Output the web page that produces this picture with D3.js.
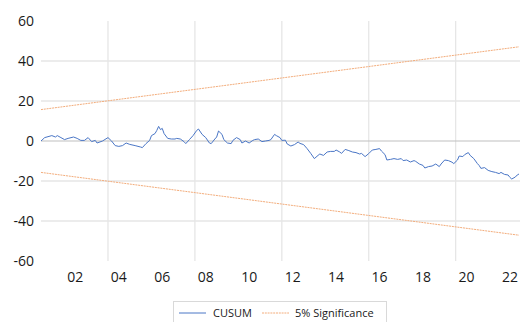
<!DOCTYPE html>
<html>
<head>
<meta charset="utf-8">
<script src="https://cdn.jsdelivr.net/npm/d3@7"></script>
<style>
  html, body { margin: 0; padding: 0; background: #ffffff; }
  svg { display: block; }
  text { font-family: "Open Sans", "Noto Sans", sans-serif; fill: #1a1a1a; }
</style>
</head>
<body>
<svg id="chart" width="520" height="322"></svg>
<script>
// ---------------- data ----------------
const obsMonth = [
"2000-12","2001-02","2001-06","2001-08","2001-09","2001-11","2002-01","2002-03","2002-06","2002-08",
"2002-10","2002-12","2003-02","2003-04","2003-06","2003-07","2003-10","2004-01","2004-03","2004-05",
"2004-07","2004-09","2004-11","2005-01","2005-04","2005-07","2005-08","2005-10","2005-12","2006-01",
"2006-03","2006-04","2006-05","2006-06","2006-07","2006-08","2006-10","2006-12","2007-02","2007-03",
"2007-05","2007-07","2007-08","2007-10","2007-12","2008-02","2008-03","2008-05","2008-07","2008-09",
"2008-10","2008-12","2009-01","2009-02","2009-04","2009-05","2009-07","2009-09","2009-10","2009-12",
"2010-02","2010-03","2010-05","2010-07","2010-09","2010-10","2010-12","2011-02","2011-04","2011-06",
"2011-07","2011-09","2011-10","2011-12","2012-01","2012-03","2012-04","2012-06","2012-08","2012-10",
"2012-11","2013-01","2013-03","2013-05","2013-07","2013-09","2013-10","2013-12","2014-02","2014-04",
"2014-06","2014-07","2014-09","2014-10","2014-12","2015-02","2015-04","2015-06","2015-08","2015-09",
"2015-11","2016-01","2016-03","2016-05","2016-07","2016-08","2016-10","2016-11","2017-01","2017-03",
"2017-05","2017-07","2017-08","2017-10","2017-12","2018-02","2018-03","2018-05","2018-07","2018-08",
"2018-10","2018-12","2019-02","2019-04","2019-05","2019-07","2019-09","2019-11","2019-12","2020-02",
"2020-03","2020-05","2020-06","2020-08","2020-09","2020-11","2021-01","2021-02","2021-03","2021-05",
"2021-07","2021-09","2021-11","2022-01","2022-02","2022-04","2022-06","2022-07","2022-08","2022-10",
"2022-11","2022-12"
];
const cusum = [
 0.0, 1.7, 2.7, 2.0, 2.7, 1.7, 0.7, 1.3, 2.0, 1.3,
 0.3, 0.3, 1.7,-0.3, 0.3,-1.0, 0.0, 1.7, 0.0,-2.3,
-2.7,-2.3,-1.0,-1.7,-2.3,-3.0,-3.3,-1.3, 0.3, 2.7,
 3.7, 5.3, 7.3, 5.7, 6.3, 3.7, 1.3, 1.0, 1.0, 1.3,
 1.0,-0.3,-1.3, 0.7, 2.7, 5.3, 6.0, 3.3, 1.7,-1.0,
-1.3, 1.0, 2.0, 5.0, 3.3, 0.7,-1.0,-1.3, 0.3, 1.7,
 0.7,-1.0, 0.0,-1.0, 0.3, 0.7, 1.0,-0.3, 0.0, 0.3,
 0.7, 3.3, 2.7, 1.7, 0.3, 0.4,-1.5,-2.5,-1.8,-0.5,
-1.2,-1.8,-3.8,-6.2,-8.8,-7.2,-6.5,-7.2,-5.5,-5.2,
-5.2,-4.5,-5.5,-6.2,-4.2,-4.8,-5.5,-5.8,-6.5,-6.2,
-7.8,-6.3,-4.5,-4.2,-3.8,-5.0,-6.8,-9.5,-9.2,-8.8,
-9.2,-8.8,-9.8,-9.5,-10.5,-9.8,-10.2,-11.5,-12.2,-13.5,
-12.8,-12.5,-11.5,-12.8,-11.5,-9.5,-9.8,-10.6,-11.3,-9.5,
-7.5,-7.8,-6.8,-5.8,-7.2,-8.8,-11.3,-12.3,-13.7,-13.3,
-14.7,-15.3,-15.7,-16.3,-15.7,-16.7,-17.0,-18.2,-19.0,-18.0,
-17.0,-16.5
];
// 5% significance bounds (straight lines from first to last observation)
const boundMonths = ["2000-12", "2022-12"];
const upperBound = [15.7, 47.1];
const lowerBound = [-15.7, -47.1];

const yTicks = [60, 40, 20, 0, -20, -40, -60];
const xTickLabels = ["02","04","06","08","10","12","14","16","18","20","22"];
const xLabelDates = ["2002-07","2004-07","2006-07","2008-07","2010-07","2012-07","2014-07","2016-07","2018-07","2020-07","2022-07"];
const xGridDates = ["2004-01","2008-01","2012-01","2016-01","2020-01"];
const seriesNames = ["CUSUM", "5% Significance"];

// ---------------- chart ----------------
const parse = d3.timeParse("%Y-%m");
const svg = d3.select("#chart");

const plot = { left: 41, right: 519, top: 21, bottom: 261 };
const boundColor = "#f3ad7c";
const cusumColor = "#4a76c6";

const x = d3.scaleTime()
  .domain([parse(boundMonths[0]), parse(boundMonths[1])])
  .range([plot.left, plot.right]);
const y = d3.scaleLinear().domain([-60, 60]).range([plot.bottom, plot.top]);

// vertical gridlines
svg.append("g").selectAll("line").data(xGridDates).join("line")
  .attr("x1", d => x(parse(d))).attr("x2", d => x(parse(d)))
  .attr("y1", plot.top).attr("y2", plot.bottom)
  .attr("stroke", "#e6e6e6").attr("stroke-width", 1.3);

// horizontal gridlines (excluding top/bottom and zero)
svg.append("g").selectAll("line").data(yTicks.filter(v => v !== 0 && Math.abs(v) !== 60)).join("line")
  .attr("x1", plot.left).attr("x2", 520)
  .attr("y1", d => y(d)).attr("y2", d => y(d))
  .attr("stroke", "#e6e6e6").attr("stroke-width", 1.3);

// zero axis line
svg.append("line")
  .attr("x1", plot.left).attr("x2", 520)
  .attr("y1", y(0)).attr("y2", y(0))
  .attr("stroke", "#bfbfbf").attr("stroke-width", 1.2);

// y labels
svg.append("g").selectAll("text").data(yTicks).join("text")
  .attr("x", 34).attr("y", d => y(d))
  .attr("dy", "0.36em")
  .attr("text-anchor", "end")
  .style("font-size", "14px")
  .text(d => d);

// x labels
svg.append("g").selectAll("text").data(xTickLabels).join("text")
  .attr("x", (d, i) => x(parse(xLabelDates[i])))
  .attr("y", 282)
  .attr("text-anchor", "middle")
  .style("font-size", "14px")
  .text(d => d);

// bounds
const bLine = d3.line().x(d => x(parse(d[0]))).y(d => y(d[1]));
[upperBound, lowerBound].forEach(b => {
  svg.append("path")
    .datum(boundMonths.map((m, i) => [m, b[i]]))
    .attr("d", bLine)
    .attr("fill", "none")
    .attr("stroke", boundColor)
    .attr("stroke-width", 1)
    .attr("stroke-dasharray", "2,0.8");
});

// CUSUM
const cLine = d3.line().x(d => x(parse(d[0]))).y(d => y(d[1]));
svg.append("path")
  .datum(obsMonth.map((m, i) => [m, cusum[i]]))
  .attr("d", cLine)
  .attr("fill", "none")
  .attr("stroke", cusumColor)
  .attr("stroke-width", 1)
  .attr("stroke-linejoin", "round");

// legend
const lg = svg.append("g");
lg.append("rect")
  .attr("x", 173.5).attr("y", 301.5).attr("width", 213).attr("height", 30)
  .attr("fill", "#fff").attr("stroke", "#d9d9d9").attr("stroke-width", 1);
lg.append("line").attr("x1", 179).attr("x2", 206).attr("y1", 313).attr("y2", 313)
  .attr("stroke", cusumColor).attr("stroke-width", 1);
lg.append("text").attr("x", 213).attr("y", 317).style("font-size", "11px").text(seriesNames[0]);
lg.append("line").attr("x1", 262).attr("x2", 289).attr("y1", 313).attr("y2", 313)
  .attr("stroke", boundColor).attr("stroke-width", 1).attr("stroke-dasharray", "2,0.8");
lg.append("text").attr("x", 295).attr("y", 317).style("font-size", "11px").text(seriesNames[1]);
</script>
</body>
</html>
